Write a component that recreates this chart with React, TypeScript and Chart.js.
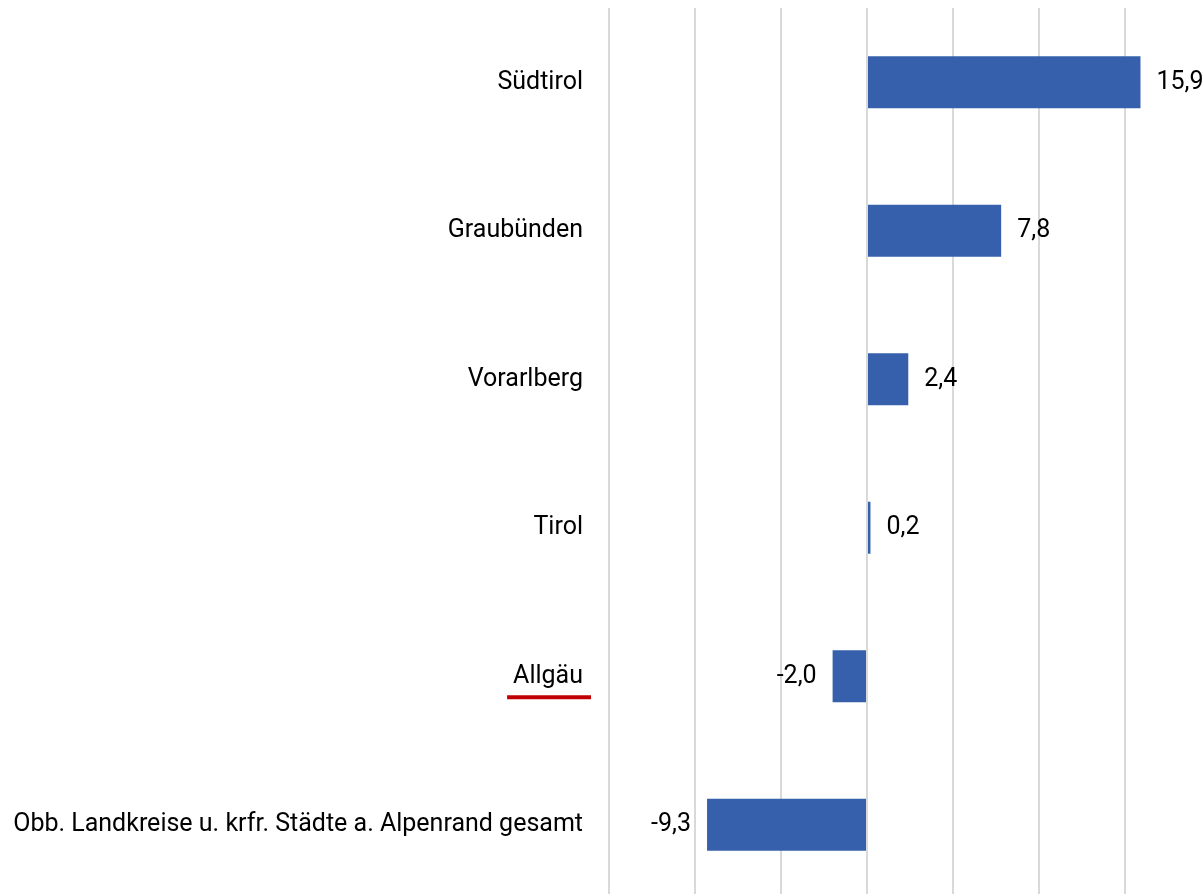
import React, { useEffect, useRef } from "react";
import { Chart, registerables } from "chart.js";

Chart.register(...registerables);

const categories = [
  "Südtirol",
  "Graubünden",
  "Vorarlberg",
  "Tirol",
  "Allgäu",
  "Obb. Landkreise u. krfr. Städte a. Alpenrand gesamt",
];
const values = [15.9, 7.8, 2.4, 0.2, -2.0, -9.3];
const highlighted = "Allgäu";
const axisMin = -15;
const axisMax = 20;
const axisStep = 5;

const FONT = "Roboto, 'Liberation Sans', sans-serif";
const FONT_SIZE = 25;
const LABEL_PAD = 26;

const fmt = (v: number) => v.toFixed(1).replace(".", ",");

const labelsPlugin = {
  id: "valueLabels",
  afterDatasetsDraw(chart: any) {
    const ctx = chart.ctx;
    const meta = chart.getDatasetMeta(0);
    ctx.save();
    ctx.font = `${FONT_SIZE}px ${FONT}`;
    ctx.fillStyle = "#000";
    ctx.textBaseline = "middle";
    meta.data.forEach((el: any, i: number) => {
      const v = values[i];
      if (v >= 0) {
        ctx.textAlign = "left";
        ctx.fillText(fmt(v), el.x + 16, el.y);
      } else {
        ctx.textAlign = "right";
        ctx.fillText(fmt(v), el.x - 16, el.y);
      }
    });
    const idx = categories.indexOf(highlighted);
    if (idx >= 0) {
      const y = chart.scales.y.getPixelForTick(idx);
      const w = ctx.measureText(highlighted).width;
      const right = chart.chartArea.left - LABEL_PAD;
      ctx.fillStyle = "#c00000";
      ctx.fillRect(right - w - 6, y + 19, w + 14, 4);
    }
    ctx.restore();
  },
};

export default function App() {
  const ref = useRef<HTMLCanvasElement>(null);
  useEffect(() => {
    if (!ref.current) return;
    const chart = new Chart(ref.current, {
      type: "bar",
      data: {
        labels: categories,
        datasets: [
          {
            data: values,
            backgroundColor: "#3660ab",
            borderWidth: 0,
            barPercentage: 0.7,
            categoryPercentage: 0.5,
          },
        ],
      },
      options: {
        indexAxis: "y",
        animation: false,
        responsive: false,
        devicePixelRatio: 1,
        layout: { padding: { top: 8, left: 0, right: 0, bottom: 0 } },
        plugins: { legend: { display: false }, tooltip: { enabled: false } },
        scales: {
          x: {
            min: axisMin,
            max: axisMax,
            ticks: { display: false, stepSize: axisStep },
            grid: { color: "#d9d9d9", lineWidth: 2, drawTicks: false },
            border: { display: false },
            afterFit: (s: any) => {
              s.height = 0;
              s.paddingLeft = 0;
              s.paddingRight = 0;
            },
          },
          y: {
            grid: { display: false, drawTicks: false },
            border: { display: false },
            ticks: {
              color: "#000",
              font: { size: FONT_SIZE, family: FONT },
              padding: LABEL_PAD,
            },
            afterFit: (s: any) => {
              s.width = 609;
              s.paddingTop = 0;
              s.paddingBottom = 0;
            },
          },
        },
      },
      plugins: [labelsPlugin],
    } as any);
    return () => chart.destroy();
  }, []);
  return (
    <div
      style={{
        position: "absolute",
        left: 0,
        top: 0,
        width: 1204,
        height: 894,
        overflow: "hidden",
        background: "#fff",
      }}
    >
      <canvas
        ref={ref}
        width={1211}
        height={899}
        style={{ position: "absolute", left: 0, top: 0 }}
      />
    </div>
  );
}
